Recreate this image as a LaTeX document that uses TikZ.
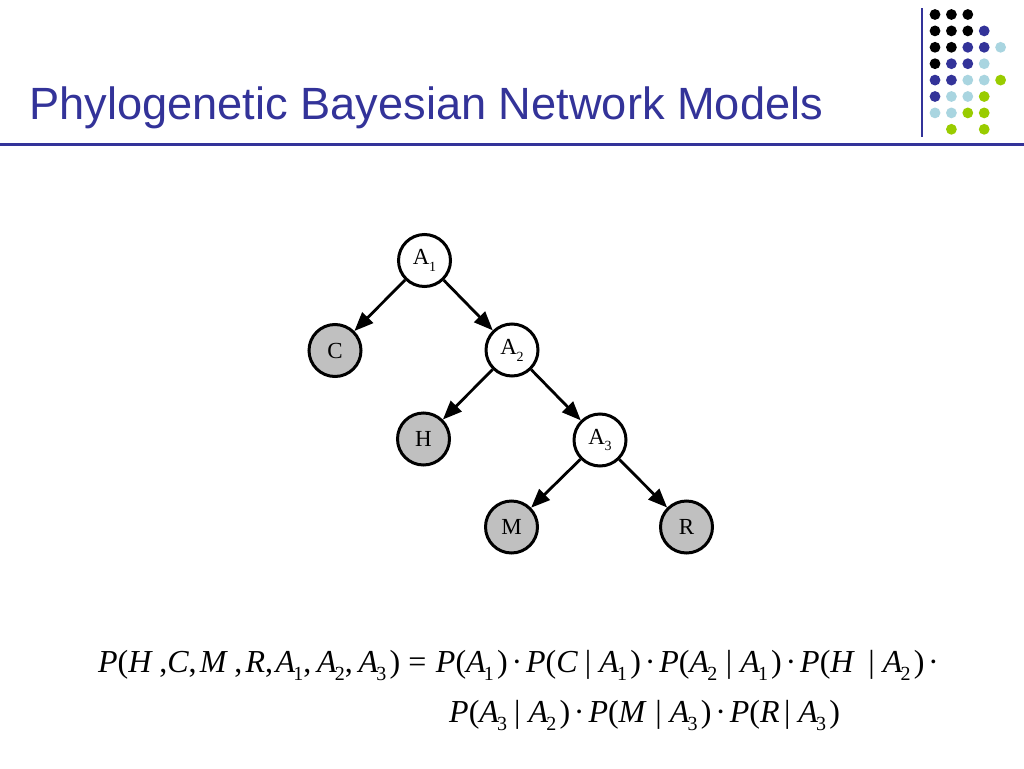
\documentclass[tikz,border=0pt]{standalone}
\usepackage{fontspec}
\setmainfont{Liberation Serif}
\newfontfamily\arialf{Liberation Sans}
\usetikzlibrary{arrows.meta}
\definecolor{titleblue}{HTML}{333399}
\definecolor{dotblue}{HTML}{333399}
\definecolor{dotlight}{HTML}{A9D5E0}
\definecolor{dotgreen}{HTML}{99CC00}
\definecolor{nodegray}{HTML}{C0C0C0}
\newcommand\fv[1]{\textit{#1}}
\newcommand\sbs[1]{\kern-0.06em\raisebox{-0.28em}{\fontsize{20}{20}\selectfont #1}}
\newcommand\nsub[1]{\kern-0.02em\raisebox{-0.3em}{\fontsize{14}{14}\selectfont #1}}
\newcommand\md{\kern0.12em·\kern0.12em}
\newcommand\gv[1][0.22em]{\kern#1|\kern0.25em}
\newcommand\cp{\kern0.1em)}
\tikzset{
  bnode/.style={circle, draw=black, line width=3pt, minimum size=52pt, inner sep=0pt,
    font=\fontsize{23}{23}\selectfont},
  hidden/.style={bnode, fill=white},
  observed/.style={bnode, fill=nodegray},
  edge/.style={line width=2.8pt, -{Triangle[length=19pt,width=15pt]}},
  formula/.style={anchor=base west, inner sep=0pt, font=\fontsize{32}{32}\selectfont},
  dot/.style={radius=5.4},
}
\begin{document}
\begin{tikzpicture}[x=1pt,y=-1pt]
\useasboundingbox (0,0) rectangle (1024,768);
\fill[white] (0,0) rectangle (1024,768);
% title
\node[anchor=base west, inner sep=0pt, text=titleblue, font=\arialf\fontsize{45.2}{45.2}\selectfont] (title) at (29,119) {Phylogenetic Bayesian Network Models};
\fill[titleblue] (0,142.5) rectangle (1024,145.5);
\fill[titleblue] (921,8) rectangle (923,137);
% dot grid
\foreach \r/\row in {0/{k,k,k,n,n},1/{k,k,k,b,n},2/{k,k,b,b,l},3/{k,b,b,l,n},4/{b,b,l,l,g},5/{b,l,l,g,n},6/{l,l,g,g,n},7/{n,g,n,g,n}}{
  \foreach \c [count=\i from 0] in \row {
    \if\c k\fill[black] ({935+16.4*\i},{14.5+16.4*\r}) circle[dot];\fi
    \if\c b\fill[dotblue] ({935+16.4*\i},{14.5+16.4*\r}) circle[dot];\fi
    \if\c l\fill[dotlight] ({935+16.4*\i},{14.5+16.4*\r}) circle[dot];\fi
    \if\c g\fill[dotgreen] ({935+16.4*\i},{14.5+16.4*\r}) circle[dot];\fi
  }
}
% tree
\node[hidden] (A1) at (424.5,260.5) {A\nsub{1}};
\node[observed] (C) at (335,350.5) {C};
\node[hidden] (A2) at (512,350) {A\nsub{2}};
\node[observed] (H) at (423.5,439) {H};
\node[hidden] (A3) at (600,440) {A\nsub{3}};
\node[observed] (M) at (511.5,527) {M};
\node[observed] (R) at (686.5,527) {R};
\draw[edge] (A1) -- (C);
\draw[edge] (A1) -- (A2);
\draw[edge] (A2) -- (H);
\draw[edge] (A2) -- (A3);
\draw[edge] (A3) -- (M);
\draw[edge] (A3) -- (R);
% formula
\node[formula] (f1) at (98,672) {\fv{P}(\fv{H}\kern0.2em,\fv{C},\kern0.1em\fv{M}\kern0.2em,\kern0.1em\fv{R},\kern0.08em\fv{A}\sbs{1},\kern0.18em\fv{A}\sbs{2},\kern0.18em\fv{A}\sbs{3}\cp\kern0.25em=\kern0.3em\fv{P}(\fv{A}\sbs{1}\cp\md\fv{P}(\fv{C}\gv\fv{A}\sbs{1}\cp\md\fv{P}(\fv{A}\sbs{2}\gv[0.27em]\fv{A}\sbs{1}\cp\md\fv{P}(\fv{H}\gv[0.42em]\fv{A}\sbs{2}\cp\md};
\node[formula] (f2) at (449,722) {\fv{P}(\fv{A}\sbs{3}\gv\fv{A}\sbs{2}\cp\md\fv{P}(\fv{M}\gv[0.27em]\fv{A}\sbs{3}\cp\md\fv{P}(\fv{R}\gv[0.14em]\fv{A}\sbs{3}\cp};
\end{tikzpicture}
\end{document}
